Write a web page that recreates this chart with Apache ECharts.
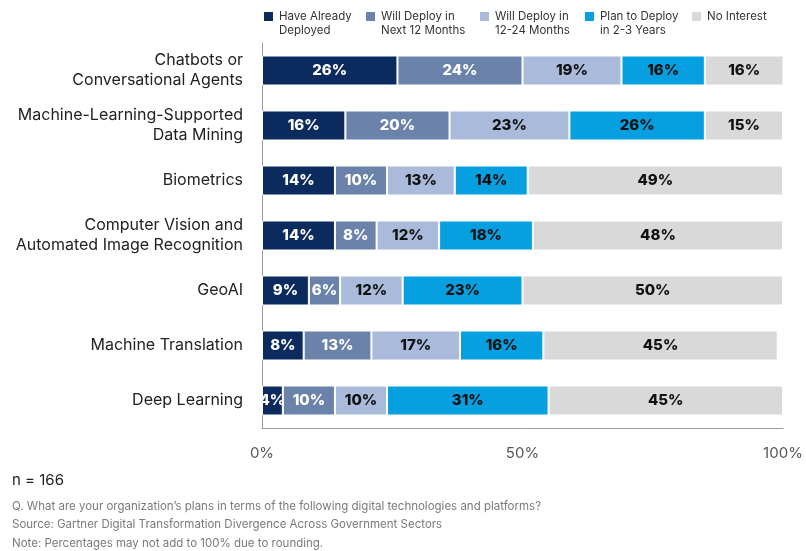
<!DOCTYPE html>
<html>
<head>
<meta charset="utf-8">
<script src="https://cdn.jsdelivr.net/npm/echarts@6/dist/echarts.min.js"></script>
<style>
  html, body { margin: 0; padding: 0; background: #fff; }
  #chart { width: 806px; height: 551px; }
</style>
</head>
<body>
<div id="chart"></div>
<script>
// Technologies, top to bottom
const categories = [
  'Chatbots or\nConversational Agents',
  'Machine-Learning-Supported\nData Mining',
  'Biometrics',
  'Computer Vision and\nAutomated Image Recognition',
  'GeoAI',
  'Machine Translation',
  'Deep Learning'
];

// Deployment plan groups (legend order)
const seriesNames = [
  'Have Already\nDeployed',
  'Will Deploy in\nNext 12 Months',
  'Will Deploy in\n12-24 Months',
  'Plan to Deploy\nin 2-3 Years',
  'No Interest'
];

// Share of respondents, %
const haveDeployed   = [26, 16, 14, 14, 9, 8, 4];
const next12Months   = [24, 20, 10, 8, 6, 13, 10];
const months12to24   = [19, 23, 13, 12, 12, 17, 10];
const years2to3      = [16, 26, 14, 18, 23, 16, 31];
const noInterest     = [16, 15, 49, 48, 50, 45, 45];

// Value axis ticks
const xTicks = [0, 50, 100];
const xTickLabels = ['0%', '50%', '100%'];

const seriesValues = [haveDeployed, next12Months, months12to24, years2to3, noInterest];

// Styling
const FONT = 'Inter, "Noto Sans", sans-serif';
const colors = ['#0b2a5e', '#6b83aa', '#a9badb', '#069fe0', '#d9d9d9'];
const labelColors = ['#ffffff', '#ffffff', '#111111', '#111111', '#111111'];
const legendLeft = [262, 364, 478, 583, 690];

const footStyle = { fontFamily: FONT, fontSize: 11.5, fontWeight: 'normal', color: '#7a7a7a' };

// Legend text is centred on the swatch, so pad it to three lines with the
// first text line in the middle; the swatch then sits beside the first line.
const legendText = (name) => {
  const lines = name.split('\n');
  while (lines.length < 2) lines.push('');
  return ['', ...lines].join('\n');
};

const chart = echarts.init(document.getElementById('chart'), null, { renderer: 'canvas' });

const option = {
  backgroundColor: '#ffffff',
  animation: false,
  textStyle: { fontFamily: FONT },
  legend: seriesNames.map((name, i) => ({
    data: [name],
    left: legendLeft[i],
    top: -4.5,
    padding: 0,
    icon: 'rect',
    itemWidth: 11,
    itemHeight: 11,
    itemGap: 0,
    selectedMode: false,
    formatter: legendText,
    textStyle: {
      fontFamily: FONT,
      fontSize: 11.5,
      lineHeight: 14,
      color: '#333'
    }
  })),
  title: [
    { text: 'n = 166', left: 12, top: 473, padding: 0,
      textStyle: { fontFamily: FONT, fontSize: 15, fontWeight: 'normal', color: '#222' } },
    { text: 'Q. What are your organization\u2019s plans in terms of the following digital technologies and platforms?',
      left: 12, top: 501, padding: 0, textStyle: footStyle },
    { text: 'Source: Gartner Digital Transformation Divergence Across Government Sectors',
      left: 12, top: 519, padding: 0, textStyle: footStyle },
    { text: 'Note: Percentages may not add to 100% due to rounding.',
      left: 12, top: 538, padding: 0, textStyle: footStyle }
  ],
  grid: { left: 262, right: 23, top: 43, height: 385, containLabel: false },
  xAxis: {
    type: 'value',
    min: xTicks[0],
    max: xTicks[xTicks.length - 1],
    interval: xTicks[1] - xTicks[0],
    axisLine: { show: true, lineStyle: { color: '#9a9a9a', width: 1 } },
    axisTick: { show: false },
    splitLine: { show: false },
    axisLabel: {
      margin: 18,
      fontFamily: FONT,
      fontSize: 15,
      color: '#555',
      formatter: (v) => xTickLabels[xTicks.indexOf(v)] ?? ''
    }
  },
  yAxis: {
    type: 'category',
    inverse: true,
    data: categories,
    axisLine: { show: true, lineStyle: { color: '#9a9a9a', width: 1 } },
    axisTick: { show: false },
    axisLabel: {
      margin: 19,
      fontFamily: FONT,
      fontSize: 16,
      lineHeight: 20,
      color: '#222',
      align: 'right'
    }
  },
  series: seriesNames.map((name, i) => ({
    name,
    type: 'bar',
    stack: 'total',
    barWidth: 30,
    clip: true,
    data: seriesValues[i],
    itemStyle: { color: colors[i], borderColor: '#ffffff', borderWidth: 1 },
    label: {
      show: true,
      position: 'inside',
      formatter: '{c}%',
      fontFamily: FONT,
      fontSize: 15,
      fontWeight: 800,
      color: labelColors[i]
    }
  }))
};

chart.setOption(option);
</script>
</body>
</html>
